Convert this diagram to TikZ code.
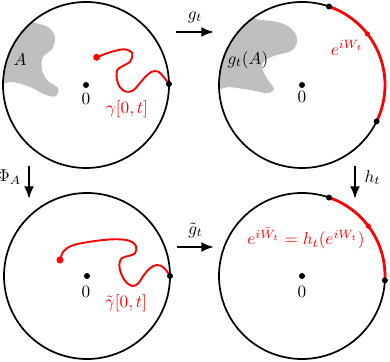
\documentclass[tikz,border=0pt]{standalone}
\usepackage{amsmath,amssymb}
\usepackage{tikz}
\usetikzlibrary{arrows.meta,calc}

\begin{document}
\begin{tikzpicture}[x=0.0204cm,y=0.0204cm,>=Latex,every node/.style={inner sep=1pt},
  bdisk/.style={line width=1pt},
  redpath/.style={red,line width=1.1pt,line cap=round},
  redarc/.style={red,line width=1.6pt},
  maparrow/.style={-{Latex[length=2.6mm,width=2mm]},line width=1.1pt}]
\useasboundingbox (0,0) rectangle (390,361);
% ---- centres of the four discs (radius 83) ----
\coordinate (C1) at (86,276);
\coordinate (C2) at (302,276);
\coordinate (C3) at (87,85);
\coordinate (C4) at (302,85);
% ---- top left: hull A and the curve gamma[0,t] ----
\begin{scope}
  \clip (C1) circle[radius=83];
  \fill[gray!50] plot[smooth cycle,tension=0.6] coordinates {(20,347) (33,339) (48,334) (55,324) (52,312) (43,304) (42,291) (48,280) (58,273) (56,265) (46,266) (30,274) (13,279) (-5,281) (-5,331)};
\end{scope}
\draw[bdisk] (C1) circle[radius=83];
\draw[redpath] plot[smooth,tension=0.6] coordinates {(96.7,303.7) (110,308.7) (123.3,311.7) (131,309.3) (132.3,306) (130,299.3) (121.7,294.3) (117.3,291) (116.7,282.7) (120,273.7) (126,269.3) (132.7,270.3) (138.3,276) (145,283.7) (151.7,289.3) (158.3,289.3) (163.3,284.3) (169,277)};
\fill[red] (96.7,303.7) circle[radius=3.5];
\fill (169,277) circle[radius=3];
\fill (C1) circle[radius=3];
\node (zeroA) at (86,262) {$0$};
\node (hullA) at (20,301) {$A$};
\node[red] (gamA) at (127,252) {$\gamma[0,t]$};
% ---- top right: g_t(A) and the arc through e^{iW_t} ----
\begin{scope}
  \clip (C2) circle[radius=83];
  \fill[gray!50] plot[smooth cycle,tension=0.6] coordinates {(240,351) (256,342) (272,340) (286,336) (295,328) (297,318) (291,310) (277,306) (265,301) (262,293) (268,281) (274,272) (267,268) (250,271) (230,274) (210,275) (215,331)};
\end{scope}
\draw[bdisk] (C2) circle[radius=83];
\draw[redarc] (C2) ++(71:83) arc[start angle=71,end angle=-26,radius=83];
\fill (C2) ++(71:83) circle[radius=3];
\fill (C2) ++(-26:83) circle[radius=3];
\fill[red] (C2) ++(38:83) circle[radius=2.6];
\fill (C2) circle[radius=3];
\node (zeroB) at (302,264) {$0$};
\node (hullB) at (248,301) {$g_t(A)$};
\node[red] (WB) at (347,313) {$e^{iW_t}$};
% ---- bottom left: the curve tilde gamma[0,t] ----
\draw[bdisk] (C3) circle[radius=83];
\draw[redpath] plot[smooth,tension=0.6] coordinates {(60,101) (63.3,109.3) (71.7,115.3) (86.7,118.7) (103.3,121) (118.3,121.7) (130,120) (136,115) (135,107.7) (128.3,105) (121.7,102.7) (119.3,96) (121.7,86) (126.7,78.3) (132.7,75) (138.3,77.7) (144,86) (150,92.7) (156.7,96) (163.3,93.7) (168.3,87.7) (170,85)};
\fill[red] (60,101) circle[radius=3.5];
\fill (170,85) circle[radius=3];
\fill (C3) circle[radius=3];
\node (zeroC) at (86,69) {$0$};
\node[red] (gamC) at (126,58) {$\tilde\gamma[0,t]$};
% ---- bottom right: the image arc ----
\draw[bdisk] (C4) circle[radius=83];
\draw[redarc] (C4) ++(71:83) arc[start angle=71,end angle=-3,radius=83];
\fill (C4) ++(71:83) circle[radius=3];
\fill (C4) ++(-3:83) circle[radius=3];
\fill[red] (C4) ++(37:83) circle[radius=2.6];
\fill (C4) circle[radius=3];
\node (zeroD) at (302,69) {$0$};
\node[red] (WD) at (306,123) {$e^{i\tilde W_t}=h_t(e^{iW_t})$};
% ---- the four maps ----
\coordinate (gS) at (176,329); \coordinate (gE) at (214,329);
\coordinate (tgS) at (177,114); \coordinate (tgE) at (214,114);
\coordinate (phS) at (29,195); \coordinate (phE) at (29,162);
\coordinate (hS) at (355,195); \coordinate (hE) at (355,162);
\draw[maparrow] (gS) -- (gE) node[midway,above=4pt] (gmap) {$g_t$};
\draw[maparrow] (tgS) -- (tgE) node[midway,above=4pt] (tgmap) {$\tilde g_t$};
\draw[maparrow] (phS) -- (phE) node[midway,left=3pt,yshift=3pt] (phmap) {$\Phi_A$};
\draw[maparrow] (hS) -- (hE) node[midway,right=4pt,yshift=3pt] (hmap) {$h_t$};
\end{tikzpicture}
\end{document}
